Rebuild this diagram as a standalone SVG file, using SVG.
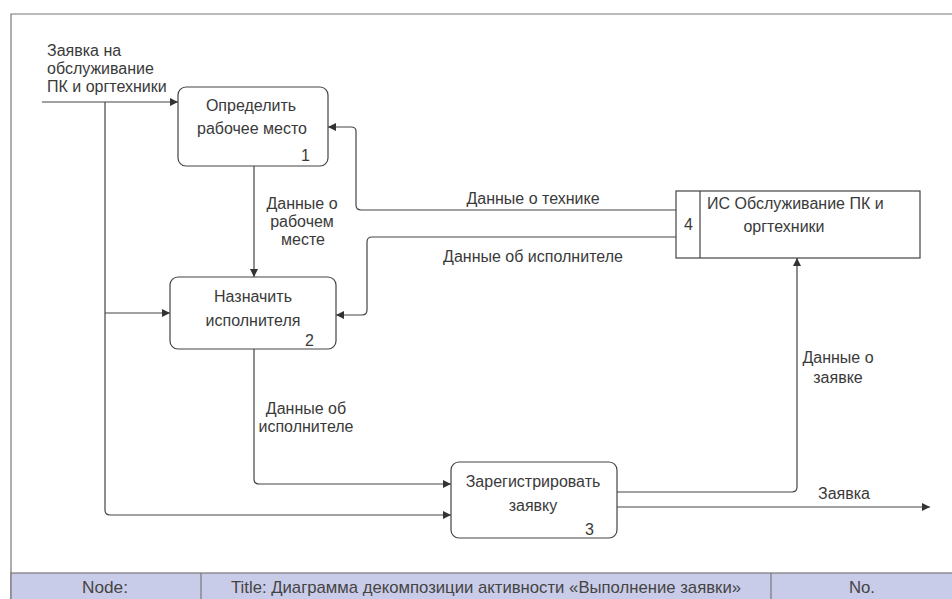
<svg xmlns="http://www.w3.org/2000/svg" width="952" height="599" viewBox="0 0 952 599">
<defs>
<marker id="arr" viewBox="0 0 8 8" refX="8" refY="4" markerWidth="8" markerHeight="8" markerUnits="userSpaceOnUse" orient="auto">
<path d="M0,0 L8,4 L0,8 z" fill="#333"/>
</marker>
</defs>
<style>
.t{font-family:"Liberation Sans",Arial,sans-serif;font-size:16px;fill:#3a3a3a}
.m{text-anchor:middle}
.box{fill:#fff;stroke:#444;stroke-width:1.2}
.c{fill:none;stroke:#444;stroke-width:1.2}
.f{font-family:"Liberation Sans",Arial,sans-serif;font-size:17px;fill:#444;text-anchor:middle}
</style>
<rect x="0" y="0" width="952" height="599" fill="#fff"/>
<path d="M11,599 L11,14 L952,14" fill="none" stroke="#777" stroke-width="1.2"/>
<g id="footer">
<rect x="11" y="573" width="945" height="30" fill="#c9cce8" stroke="#777" stroke-width="1.2"/>
<line x1="201" y1="573" x2="201" y2="599" stroke="#777" stroke-width="1.2"/>
<line x1="771" y1="573" x2="771" y2="599" stroke="#777" stroke-width="1.2"/>
<text class="f" x="105" y="593" textLength="46" lengthAdjust="spacingAndGlyphs">Node:</text>
<text class="f" x="486" y="593" textLength="510" lengthAdjust="spacingAndGlyphs">Title: Диаграмма декомпозиции активности «Выполнение заявки»</text>
<text class="f" x="862" y="593" textLength="26" lengthAdjust="spacingAndGlyphs">No.</text>
</g>
<g id="connectors">
<path class="c" d="M42,102 H178" marker-end="url(#arr)"/>
<path class="c" d="M105,102 V510 Q105,515 110,515 H451" marker-end="url(#arr)"/>
<path class="c" d="M105,313 H170" marker-end="url(#arr)"/>
<path class="c" d="M254,166 V277" marker-end="url(#arr)"/>
<path class="c" d="M676,210 H361 Q356,210 356,205 V131 Q356,127 351,127 H328" marker-end="url(#arr)"/>
<path class="c" d="M676,237 H372 Q367,237 367,242 V310 Q367,315 362,315 H336" marker-end="url(#arr)"/>
<path class="c" d="M254,349 V479 Q254,484 259,484 H451" marker-end="url(#arr)"/>
<path class="c" d="M617,492 H792 Q797,492 797,487 V258" marker-end="url(#arr)"/>
<path class="c" d="M617,507 H930" marker-end="url(#arr)"/>
<text class="t" x="47" y="56">Заявка на</text>
<text class="t" x="47" y="74">обслуживание</text>
<text class="t" x="47" y="92">ПК и оргтехники</text>
<text class="t m" x="302" y="209">Данные о</text>
<text class="t m" x="302" y="227">рабочем</text>
<text class="t m" x="303" y="245">месте</text>
<text class="t m" x="533" y="204">Данные о технике</text>
<text class="t m" x="533" y="262">Данные об исполнителе</text>
<text class="t m" x="306" y="414">Данные об</text>
<text class="t m" x="306" y="432">исполнителе</text>
<text class="t m" x="838" y="363">Данные о</text>
<text class="t m" x="838" y="383">заявке</text>
<text class="t" x="818" y="499">Заявка</text>
</g>
<g id="node1">
<rect class="box" x="178" y="87" width="150" height="79" rx="8"/>
<text class="t m" x="251" y="111">Определить</text>
<text class="t m" x="252" y="134">рабочее место</text>
<text class="t" x="301" y="161">1</text>
</g>
<g id="node2">
<rect class="box" x="170" y="277" width="166" height="72" rx="8"/>
<text class="t m" x="253" y="302">Назначить</text>
<text class="t m" x="253" y="326">исполнителя</text>
<text class="t" x="305" y="346">2</text>
</g>
<g id="node3">
<rect class="box" x="451" y="462" width="166" height="76" rx="8"/>
<text class="t m" x="533" y="487">Зарегистрировать</text>
<text class="t m" x="533" y="511">заявку</text>
<text class="t" x="585" y="535">3</text>
</g>
<g id="node4">
<rect class="box" x="676" y="191" width="244" height="67"/>
<line x1="700" y1="191" x2="700" y2="258" stroke="#444" stroke-width="1.2"/>
<text class="t" x="684" y="230">4</text>
<text class="t" x="707" y="209">ИС Обслуживание ПК и</text>
<text class="t m" x="784" y="232">оргтехники</text>
</g>
</svg>
